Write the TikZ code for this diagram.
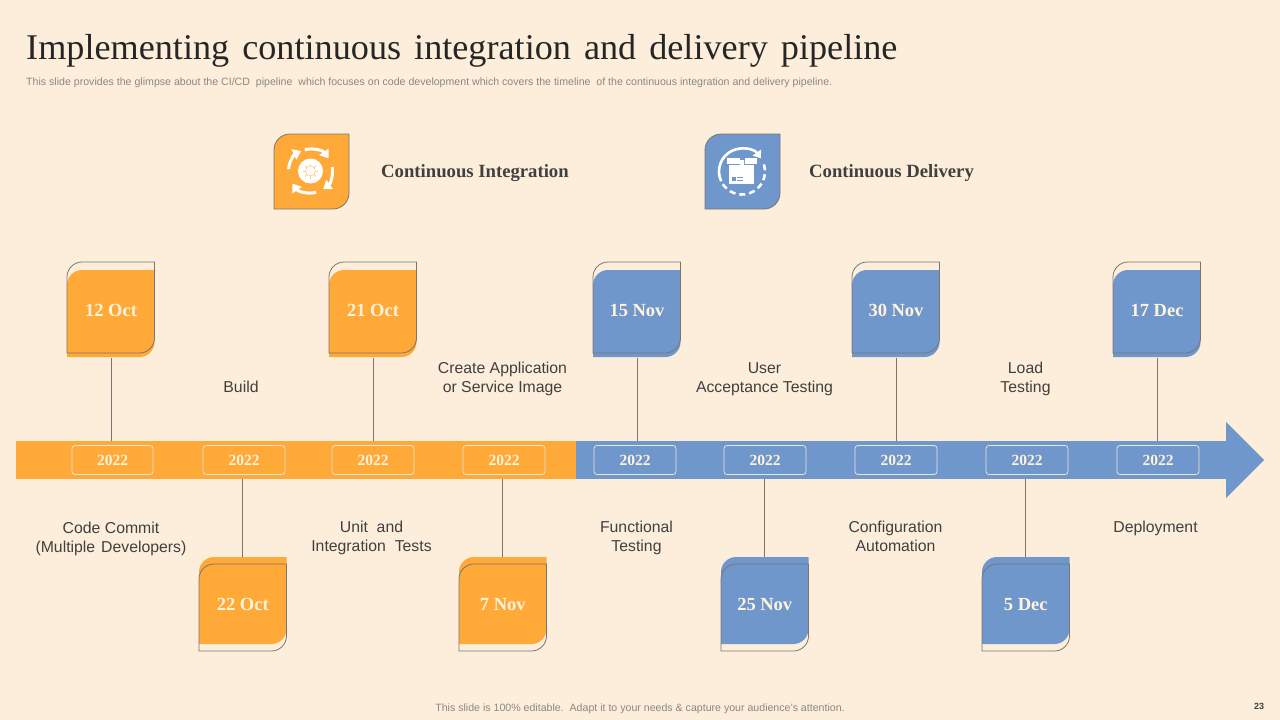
\documentclass[tikz,border=0pt]{standalone}
\usepackage{fontspec}
\setmainfont{Liberation Sans}
\newfontfamily\headfont{Liberation Serif}
\usetikzlibrary{arrows.meta}
\definecolor{pagebg}{HTML}{FDEEDB}
\definecolor{ciorange}{HTML}{FFA939}
\definecolor{cdblue}{HTML}{6F97CB}
\definecolor{cream}{HTML}{FFF3DC}
\definecolor{rulegray}{HTML}{7A7570}
\definecolor{labeltext}{HTML}{404040}
\definecolor{smalltext}{HTML}{8C8782}
\newcommand{\leaf}[5]{(#1,#4) -- (#1,#2+#5) .. controls (#1,#2+0.45*#5) and (#1+0.45*#5,#2) .. (#1+#5,#2) -- (#3,#2) -- (#3,#4-#5) .. controls (#3,#4-0.45*#5) and (#3-0.45*#5,#4) .. (#3-#5,#4) -- cycle}
\tikzset{
  cardtext/.style = {minimum width = 87.5pt, inner sep = 0pt, text = cream, font = \headfont\bfseries\fontsize{18.5}{21}\selectfont},
  pill/.style = {draw = cream!85!cdblue, rounded corners = 3pt, line width = 0.8pt, minimum width = 82pt, minimum height = 29pt, inner sep = 0pt, text = cream, font = \headfont\bfseries\fontsize{15.5}{18}\selectfont},
  steplabel/.style = {align = center, inner sep = 0pt, text = labeltext, font = \fontsize{15.8}{19}\selectfont, execute at begin node = \strut, execute at end node = \strut},
  headlabel/.style = {anchor = west, inner sep = 0pt, text = labeltext, font = \headfont\bfseries\fontsize{18.7}{22}\selectfont},
  smalllabel/.style = {inner sep = 0pt, text = smalltext, font = \fontsize{10.6}{12}\selectfont},
  barpart/.style = {minimum height = 38pt, inner sep = 0pt},
  stem/.style = {draw = rulegray, line width = 0.8pt}
}
\begin{document}
\begin{tikzpicture}[x = 1pt, y = -1pt]
  \useasboundingbox (0,0) rectangle (1280,720);
  \fill[pagebg] (0,0) rectangle (1280,720);
  % heading
  \node (title) [anchor = west, inner sep = 0pt, text = black!85, font = \headfont\fontsize{36.2}{42}\selectfont] at (26,50.5) {\spaceskip=13pt Implementing continuous integration and delivery pipeline};
  \node (sub) [smalllabel, anchor = west] at (26,82.5) {This slide provides the glimpse about the CI/CD\ \ pipeline\ \ which focuses on code development which covers the timeline\ \ of the continuous integration and delivery pipeline.};
  % legend
  \fill[ciorange] \leaf{274}{134}{349}{209}{16};
  \draw[rulegray, line width = 0.8pt] \leaf{274}{134}{349}{209}{16};
  \fill[white] (310.5,171) circle (12.5);
  \draw[ciorange!60, line width = 0.6pt] (310.5,171) circle (5);
  \foreach \a in {0,45,...,315}{
    \draw[ciorange!60, line width = 1pt] (310.5,171) ++(\a:5pt) -- ++(\a:2.5pt);
  }
  \foreach \a/\b in {105/35, 10/-55, -75/-145, 175/115}{
    \draw[white, line width = 3pt, -{Triangle[width = 11pt, length = 8pt]}] (310.5,171) ++(\a:22pt) arc[start angle = \a, end angle = \b, radius = 22pt];
  }
  \node (cilabel) [headlabel] at (381,173) {Continuous Integration};
  \fill[cdblue] \leaf{705}{134}{780}{209}{16};
  \draw[rulegray, line width = 0.8pt] \leaf{705}{134}{780}{209}{16};
  \draw[white, line width = 2.6pt, -{Triangle[width = 10pt, length = 7pt]}] (742,171.5) ++(205:23pt) arc[start angle = 205, end angle = 35, radius = 23pt];
  \draw[white, line width = 2.6pt, dash pattern = on 6pt off 4pt] (742,171.5) ++(18:23pt) arc[start angle = 18, end angle = -150, radius = 23pt];
  \fill[white] (729,165) rectangle (754,184);
  \fill[white] (727,158) rectangle (739.5,164);
  \fill[white] (744.5,158) rectangle (757,164);
  \fill[white] (740,160) -- (744,160) -- (744,168) -- (742,166.5) -- (740,168) -- cycle;
  \fill[cdblue] (732,177) rectangle (735.5,181);
  \fill[cdblue] (737,177) rectangle (743,178);
  \fill[cdblue] (737,180) rectangle (743,181);
  \node (cdlabel) [headlabel] at (809,173) {Continuous Delivery};
  % timeline
  \node (barA) [barpart, fill = ciorange, minimum width = 560pt] at (296,460) {};
  \node (barB) [barpart, fill = cdblue, minimum width = 650pt] at (901,460) {};
  \fill[cdblue] (1226,422) -- (1264,460) -- (1226,498) -- cycle;
  \foreach \n/\x/\w in {1/112.5/81, 2/244/82, 3/373/82, 4/504/82, 5/635/82, 6/765/82, 7/896/82, 8/1027/82, 9/1158/82}{
    \node (pill\n) [pill, minimum width = \w pt] at (\x,460) {2022};
  }
  % cards above the bar
  \foreach \n/\x/\d/\c/\b in {1/67/12 Oct/ciorange/barA, 2/329/21 Oct/ciorange/barA, 3/593/15 Nov/cdblue/barB, 4/852/30 Nov/cdblue/barB, 5/1113/17 Dec/cdblue/barB}{
    \fill[\c] \leaf{\x}{270}{\x+87.5}{357}{15};
    \draw[rulegray, line width = 0.8pt] \leaf{\x}{262}{\x+87.5}{353}{15};
    \node (up\n) [cardtext, minimum height = 95pt] at (\x+44,310.5) {\d};
    \path[stem] (up\n.south) edge (up\n.south |- \b.north);
  }
  % cards below the bar
  \foreach \n/\x/\d/\c/\b in {1/199/22 Oct/ciorange/barA, 2/459/7 Nov/ciorange/barA, 3/721/25 Nov/cdblue/barB, 4/982/5 Dec/cdblue/barB}{
    \fill[\c] \leaf{\x}{557}{\x+87.5}{644}{15};
    \draw[rulegray, line width = 0.8pt] \leaf{\x}{564}{\x+87.5}{651}{15};
    \node (dn\n) [cardtext, minimum height = 94pt] at (\x+43.75,604.5) {\d};
    \path[stem] (dn\n.north) edge (dn\n.north |- \b.south);
  }
  % step labels
  \node (build) [steplabel] at (241,389) {Build};
  \node (image) [steplabel] at (502.5,380) {Create Application\\or Service Image};
  \node (accept) [steplabel] at (764.5,380) {User\\Acceptance Testing};
  \node (load) [steplabel] at (1025.5,380) {Load\\Testing};
  \node (commit) [steplabel] at (111,540) {Code Commit\\(Multiple\hspace{6pt}Developers)};
  \node (unit) [steplabel] at (371.5,539) {Unit\ \ and\\Integration\ \ Tests};
  \node (func) [steplabel] at (636.5,539) {Functional\\Testing};
  \node (config) [steplabel] at (895.5,539) {Configuration\\Automation};
  \node (deploy) [steplabel] at (1155.5,529) {Deployment};
  % footer
  \node (foot) [smalllabel] at (640,708.5) {This slide is 100\% editable.\ \ Adapt it to your needs \& capture your audience's attention.};
  \node (page) [inner sep = 0pt, text = labeltext, font = \bfseries\fontsize{9}{11}\selectfont] at (1259,706) {23};
\end{tikzpicture}
\end{document}
